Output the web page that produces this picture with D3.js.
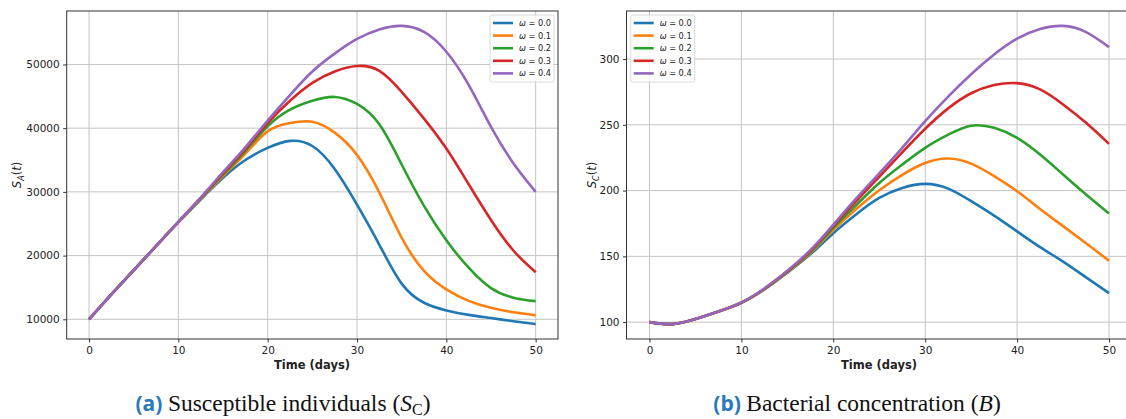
<!DOCTYPE html>
<html>
<head>
<meta charset="utf-8">
<script src="https://cdn.jsdelivr.net/npm/d3@7"></script>
<style>
  body { margin: 0; background: #fff; }
  text { font-family: "DejaVu Sans", sans-serif; fill: #222; }
</style>
</head>
<body>
<svg id="fig" width="1126" height="419"></svg>
<script>
// time samples (days)
const days = [0, 2.5, 5, 7.5, 10, 12.5, 15, 17.5, 20, 22.5, 25, 27.5, 30, 32.5, 35, 37.5, 40, 42.5, 45, 47.5, 50];
const omegas = ["0.0", "0.1", "0.2", "0.3", "0.4"];
const colors = ["#1f77b4", "#ff7f0e", "#2ca02c", "#d62728", "#9467bd"];
const dayTicks = [0, 10, 20, 30, 40, 50];

// (a) susceptible individuals, one array per omega
const susA0 = [10000, 13900, 17700, 21500, 25200, 28800, 32200, 35000, 36900, 38000, 37200, 33600, 28000, 21700, 15600, 12600, 11400, 10700, 10200, 9700, 9250];
const susA1 = [10000, 13900, 17700, 21500, 25250, 28900, 32500, 36000, 39500, 40800, 41000, 39300, 35800, 29900, 22800, 17600, 14700, 12900, 11800, 11100, 10650];
const susA2 = [10000, 13900, 17700, 21500, 25300, 29000, 32700, 36400, 40300, 42900, 44300, 44900, 43800, 40600, 34300, 27800, 22400, 18100, 14900, 13400, 12850];
const susA3 = [10000, 13900, 17700, 21500, 25300, 29050, 32900, 36700, 40800, 44300, 47100, 48900, 49750, 49000, 45700, 41500, 36800, 31200, 25600, 20800, 17400];
const susA4 = [10000, 13900, 17700, 21500, 25300, 29100, 33100, 37000, 41200, 45200, 48900, 51700, 54000, 55500, 56050, 55100, 52000, 46800, 40200, 34500, 30000];
const susTicks = [10000, 20000, 30000, 40000, 50000];

// (b) bacterial concentration, one array per omega
const bac0 = [100, 98.5, 102.3, 108, 114.6, 124.8, 137.6, 151.5, 167.5, 182, 194.4, 202, 205.1, 201.5, 192, 181, 169, 157, 146, 134, 122];
const bac1 = [100, 98.5, 102.3, 108, 114.7, 125, 138, 152.5, 170, 186, 200.3, 212, 221, 224.4, 220.5, 211, 199.5, 186, 173, 160, 146.7];
const bac2 = [100, 98.5, 102.3, 108, 114.8, 125.2, 138.3, 153.3, 171.5, 189, 205.8, 219.8, 232.5, 242.5, 249.3, 247.7, 240.1, 227.4, 212.2, 197, 182.5];
const bac3 = [100, 98.5, 102.3, 108, 114.9, 125.4, 138.6, 154, 173, 192, 210.5, 229, 247, 262.5, 274, 280.2, 281.7, 276.9, 265.5, 251.5, 235.5];
const bac4 = [100, 98.5, 102.3, 108, 115, 125.6, 139, 154.7, 174, 194, 213, 232.5, 252.8, 271.5, 288.5, 303.5, 315.5, 322.8, 325.2, 320.5, 309.1];
const bacTicks = [100, 150, 200, 250, 300];

var svg = d3.select("#fig");

var panels = [
  { left: 66.7, right: 558, series: [susA0, susA1, susA2, susA3, susA4], ticks: susTicks,
    sub: "A", legendX: 490, labelX: 17, xlabelX: 312, tag: "(a)", caption: ["Susceptible individuals (", "S", "C", ")"], capX: 283 },
  { left: 626.5, right: 1132, series: [bac0, bac1, bac2, bac3, bac4], ticks: bacTicks,
    sub: "C", legendX: 630.7, labelX: 592, xlabelX: 879, tag: "(b)", caption: ["Bacterial concentration (", "B", "", ")"], capX: 857 }
];
var plotTop = 11, plotBottom = 339;

panels.forEach(function(p) {
  var g = svg.append("g");

  // matplotlib style 5% margins
  var all = d3.merge(p.series),
      ext = d3.extent(all),
      pad = (ext[1] - ext[0]) * 0.05;

  var x = d3.scaleLinear().domain([-2.5, 52.5]).range([p.left, p.right]);
  var y = d3.scaleLinear().domain([ext[0] - pad, ext[1] + pad]).range([plotBottom, plotTop]);

  // grid
  g.selectAll("line.gx").data(dayTicks).enter().append("line")
      .attr("x1", x).attr("x2", x).attr("y1", plotTop).attr("y2", plotBottom)
      .attr("stroke", "#c4c4c4").attr("stroke-width", 1);
  g.selectAll("line.gy").data(p.ticks).enter().append("line")
      .attr("y1", y).attr("y2", y).attr("x1", p.left).attr("x2", p.right)
      .attr("stroke", "#c4c4c4").attr("stroke-width", 1);

  // axes
  var xAxis = g.append("g")
      .attr("transform", "translate(0," + plotBottom + ")")
      .call(d3.axisBottom(x).tickValues(dayTicks).tickSize(3.5).tickPadding(4).tickFormat(d3.format("d")));
  var yAxis = g.append("g")
      .attr("transform", "translate(" + p.left + ",0)")
      .call(d3.axisLeft(y).tickValues(p.ticks).tickSize(3.5).tickPadding(3.5).tickFormat(d3.format("d")));
  [xAxis, yAxis].forEach(function(a) {
    a.select(".domain").remove();
    a.selectAll("line").attr("stroke", "#333");
    a.selectAll("text").attr("font-size", "10.5px").attr("font-family", "DejaVu Sans").attr("fill", "#222");
  });

  // spines
  g.append("rect")
      .attr("x", p.left).attr("y", plotTop)
      .attr("width", p.right - p.left).attr("height", plotBottom - plotTop)
      .attr("fill", "none").attr("stroke", "#333").attr("stroke-width", 1);

  // curves
  var line = d3.line()
      .x(function(d, i) { return x(days[i]); })
      .y(function(d) { return y(d); })
      .curve(d3.curveNatural);

  g.selectAll("path.curve").data(p.series).enter().append("path")
      .attr("class", "curve")
      .attr("d", line)
      .attr("fill", "none")
      .attr("stroke", function(d, i) { return colors[i]; })
      .attr("stroke-width", 2.6);

  // legend
  var lg = g.append("g").attr("transform", "translate(" + p.legendX + ",15)");
  lg.append("rect")
      .attr("width", 64).attr("height", 67).attr("rx", 2)
      .attr("fill", "#fff").attr("fill-opacity", 0.8)
      .attr("stroke", "#d0d0d0").attr("stroke-width", 0.8);
  var item = lg.selectAll("g.item").data(omegas).enter().append("g")
      .attr("transform", function(d, i) { return "translate(0," + (8 + i * 12.6) + ")"; });
  item.append("line")
      .attr("x1", 3).attr("x2", 23)
      .attr("stroke", function(d, i) { return colors[i]; })
      .attr("stroke-width", 2.6);
  var lt = item.append("text").attr("x", 29).attr("y", 3).attr("font-size", "8.2px");
  lt.append("tspan").attr("font-style", "italic").text("ω");
  lt.append("tspan").text(function(d) { return " = " + d; });

  // axis labels
  svg.append("text")
      .attr("x", p.xlabelX)
      .attr("y", 369)
      .attr("text-anchor", "middle")
      .attr("font-weight", "bold")
      .attr("font-size", "11.5px")
      .attr("fill", "#111")
      .text("Time (days)");

  var yl = svg.append("text")
      .attr("transform", "translate(" + (p.labelX + 4) + "," + ((plotTop + plotBottom) / 2) + ") rotate(-90)")
      .attr("text-anchor", "middle")
      .attr("font-size", "11.5px");
  yl.append("tspan").attr("font-style", "italic").text("S");
  yl.append("tspan").attr("font-style", "italic").attr("font-size", "8px").attr("dy", 2.5).text(p.sub);
  yl.append("tspan").attr("dy", -2.5).text("(");
  yl.append("tspan").attr("font-style", "italic").text("t");
  yl.append("tspan").text(")");

  // caption below the panel
  var cap = svg.append("text")
      .attr("x", p.capX).attr("y", 411)
      .attr("text-anchor", "middle")
      .attr("font-size", "23.5px");
  cap.append("tspan")
      .attr("font-family", "Open Sans").attr("font-weight", "bold").attr("font-size", "21px")
      .attr("fill", "#2a79bd").text(p.tag + " ");
  cap.append("tspan").attr("font-family", "Liberation Serif").attr("fill", "#111").text(p.caption[0]);
  cap.append("tspan").attr("font-family", "Liberation Serif").attr("font-style", "italic").attr("fill", "#111").text(p.caption[1]);
  if (p.caption[2]) {
    cap.append("tspan").attr("font-family", "Liberation Serif").attr("font-size", "16px").attr("dy", 3.5).attr("fill", "#111").text(p.caption[2]);
    cap.append("tspan").attr("font-family", "Liberation Serif").attr("dy", -3.5).attr("fill", "#111").text(p.caption[3]);
  } else {
    cap.append("tspan").attr("font-family", "Liberation Serif").attr("fill", "#111").text(p.caption[3]);
  }
});
</script>
</body>
</html>
